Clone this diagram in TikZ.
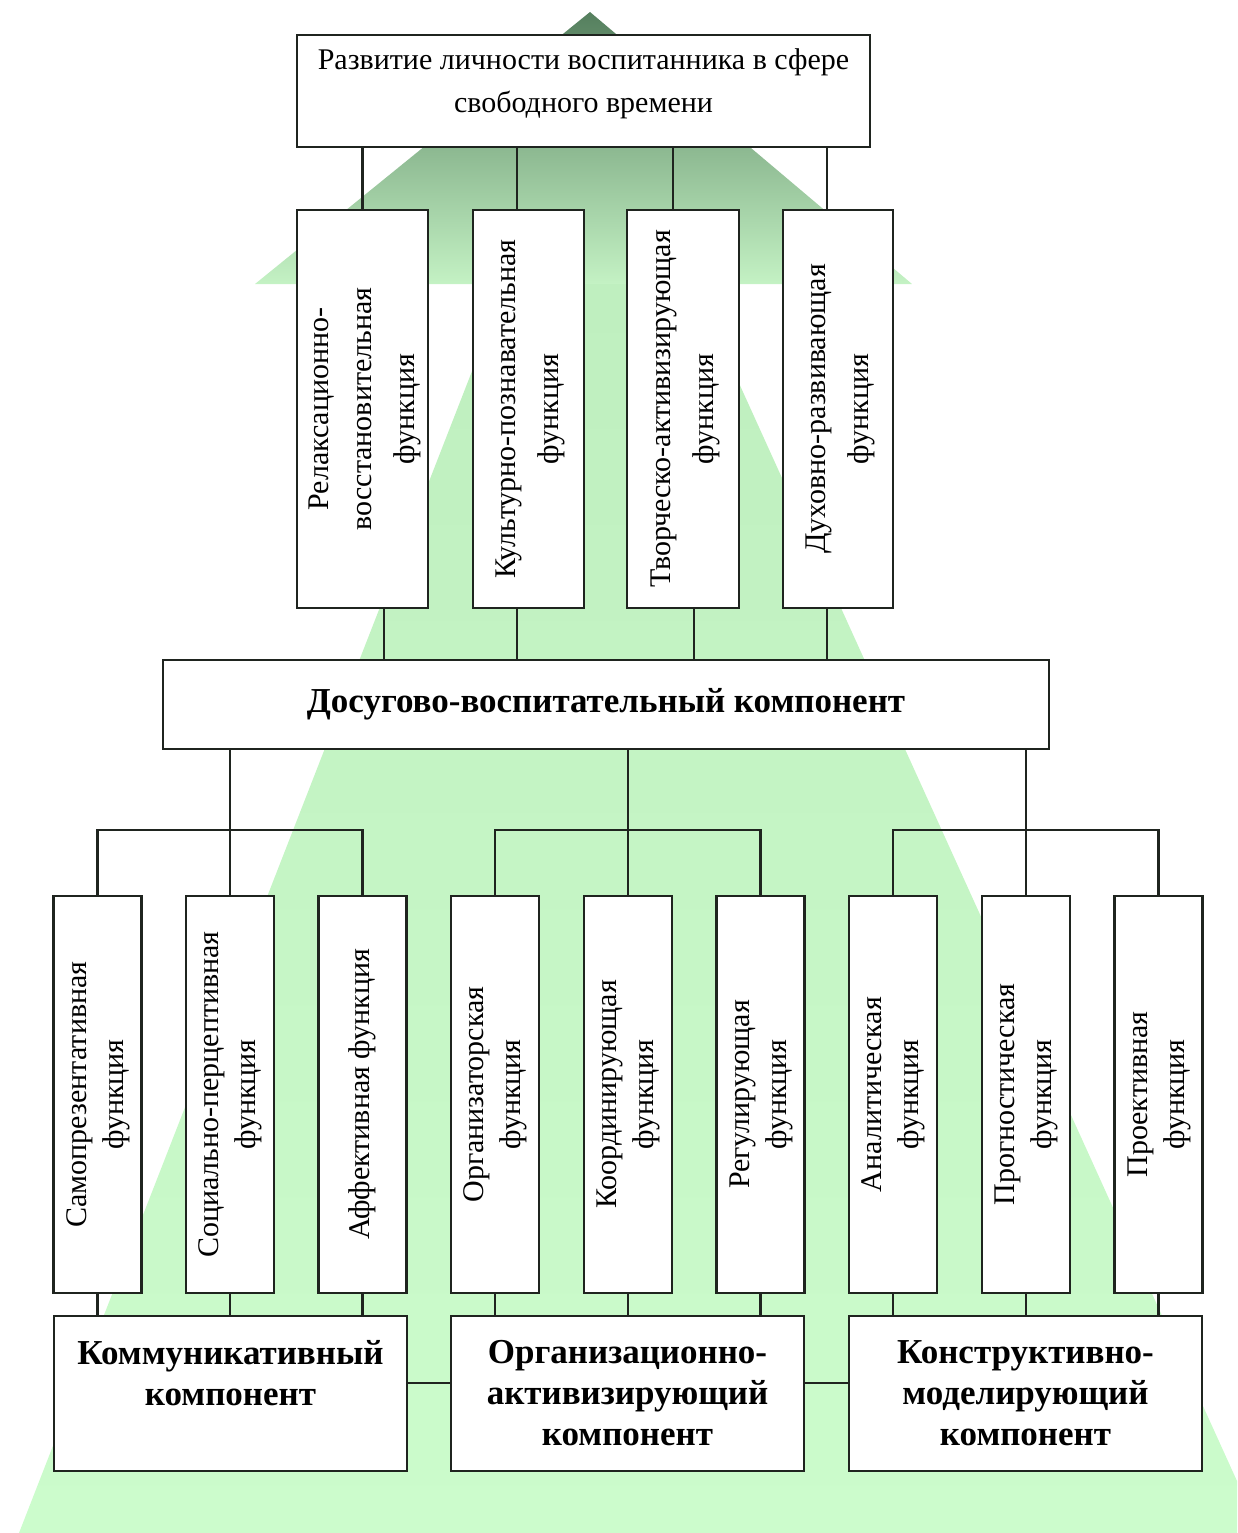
\documentclass[tikz,border=0pt]{standalone}
\usepackage{graphicx}
\usepackage{fontspec}
\setmainfont{Liberation Serif}
\definecolor{ln}{HTML}{1F241F}
\definecolor{gtop}{HTML}{557F5E}
\definecolor{gmid}{HTML}{AEDCAE}
\definecolor{gbot}{HTML}{C4F2C4}
\definecolor{stop}{HTML}{BFEFBF}
\definecolor{sbot}{HTML}{CCFCCC}
\newcommand\vtxt[1]{\rotatebox{90}{\begin{tabular}{@{}c@{}}#1\end{tabular}}}
\tikzset{
  boxst/.style={draw=ln, line width=2.6pt, fill=white, inner sep=0pt, rectangle},
  wire/.style={draw=ln, line width=2.4pt},
  fnA/.style={boxst, minimum height=398pt, font=\fontsize{30}{43}\selectfont},
  fnB/.style={boxst, minimum width=88pt, minimum height=397pt, font=\fontsize{30}{37}\selectfont},
  comp/.style={boxst, minimum width=353pt, minimum height=155pt, align=center, font=\fontsize{35}{41}\selectfont\bfseries},
}
\begin{document}
\begin{tikzpicture}[x=1pt,y=-1pt]
\useasboundingbox (0,0) rectangle (1237,1533);
% green arrow (background)
\shade[top color=stop, bottom color=sbot] (506,284) -- (694,284) -- (1237,1481) -- (1237,1533) -- (19,1533) -- cycle;
\shade[top color=gtop, middle color=gmid, bottom color=gbot] (590,12) -- (912,284) -- (255,284) -- cycle;

% top box
\node[boxst, minimum width=573pt, minimum height=112pt] (top) at (583.5,91) {};
\node[font=\fontsize{30}{43}\selectfont, align=center, inner sep=0pt] (toptxt) at (583.5,84) {Развитие личности воспитанника в сфере\\свободного времени};

% first row of functions
\node[fnA, minimum width=131pt] (f1) at (362.5,409) {\vtxt{Релаксационно-\\восстановительная\\функция}};
\node[fnA, minimum width=111pt] (f2) at (528.5,409) {\vtxt{Культурно-познавательная\\функция}};
\node[fnA, minimum width=112pt] (f3) at (683,409) {\vtxt{Творческо-активизирующая\\функция}};
\node[fnA, minimum width=110pt] (f4) at (838,409) {\vtxt{Духовно-развивающая\\функция}};

% main component
\node[boxst, minimum width=886pt, minimum height=89pt, font=\fontsize{35}{41}\selectfont\bfseries] (dos) at (606,704.5) {Досугово-воспитательный компонент};

% second row of functions
\node[fnB] (g1) at (97.5,1094.5) {\vtxt{Самопрезентативная\\функция}};
\node[fnB] (g2) at (230,1094.5) {\vtxt{Социально-перцептивная\\функция}};
\node[fnB] (g3) at (362.5,1094.5) {\vtxt{Аффективная функция}};
\node[fnB] (g4) at (495,1094.5) {\vtxt{Организаторская\\функция}};
\node[fnB] (g5) at (628,1094.5) {\vtxt{Координирующая\\функция}};
\node[fnB] (g6) at (760.5,1094.5) {\vtxt{Регулирующая\\функция}};
\node[fnB] (g7) at (893,1094.5) {\vtxt{Аналитическая\\функция}};
\node[fnB] (g8) at (1026,1094.5) {\vtxt{Прогностическая\\функция}};
\node[fnB] (g9) at (1158.5,1094.5) {\vtxt{Проективная\\функция}};

% components
\node[comp] (k1) at (230.5,1393.5) {Коммуникативный\\компонент\\\mbox{}};
\node[comp] (k2) at (627.5,1393.5) {Организационно-\\активизирующий\\компонент};
\node[comp] (k3) at (1025.5,1393.5) {Конструктивно-\\моделирующий\\компонент};

% connectors: top box -> first row
\coordinate (a1) at (f1.north);
\coordinate (a2) at ([xshift=-11.5pt]f2.north);
\coordinate (a3) at ([xshift=-10pt]f3.north);
\coordinate (a4) at ([xshift=-11pt]f4.north);
\foreach \c in {a1,a2,a3,a4} \draw[wire] (\c) -- (\c |- top.south);

% connectors: first row -> main component
\coordinate (b1) at ([xshift=21.5pt]f1.south);
\coordinate (b2) at ([xshift=-11.5pt]f2.south);
\coordinate (b3) at ([xshift=11pt]f3.south);
\coordinate (b4) at ([xshift=-11pt]f4.south);
\foreach \c in {b1,b2,b3,b4} \draw[wire] (\c) -- (\c |- dos.north);

% buses
\coordinate (bus) at (0,830);
\draw[wire] (g1.north) -- (g1.north |- bus) -- (g3.north |- bus) -- (g3.north);
\draw[wire] (g2.north |- dos.south) -- (g2.north);
\draw[wire] (g4.north) -- (g4.north |- bus) -- (g6.north |- bus) -- (g6.north);
\draw[wire] (g5.north |- dos.south) -- (g5.north);
\draw[wire] (g7.north) -- (g7.north |- bus) -- (g9.north |- bus) -- (g9.north);
\draw[wire] (g8.north |- dos.south) -- (g8.north);

% second row -> components
\draw[wire] (g1.south) -- (g1.south |- k1.north);
\draw[wire] (g2.south) -- (g2.south |- k1.north);
\draw[wire] (g3.south) -- (g3.south |- k1.north);
\draw[wire] (g4.south) -- (g4.south |- k2.north);
\draw[wire] (g5.south) -- (g5.south |- k2.north);
\draw[wire] (g6.south) -- (g6.south |- k2.north);
\draw[wire] (g7.south) -- (g7.south |- k3.north);
\draw[wire] (g8.south) -- (g8.south |- k3.north);
\draw[wire] (g9.south) -- (g9.south |- k3.north);

% components linked
\draw[wire] ([yshift=10.5pt]k1.east) -- ([yshift=10.5pt]k2.west);
\draw[wire] ([yshift=10.5pt]k2.east) -- ([yshift=10.5pt]k3.west);
\end{tikzpicture}
\end{document}
